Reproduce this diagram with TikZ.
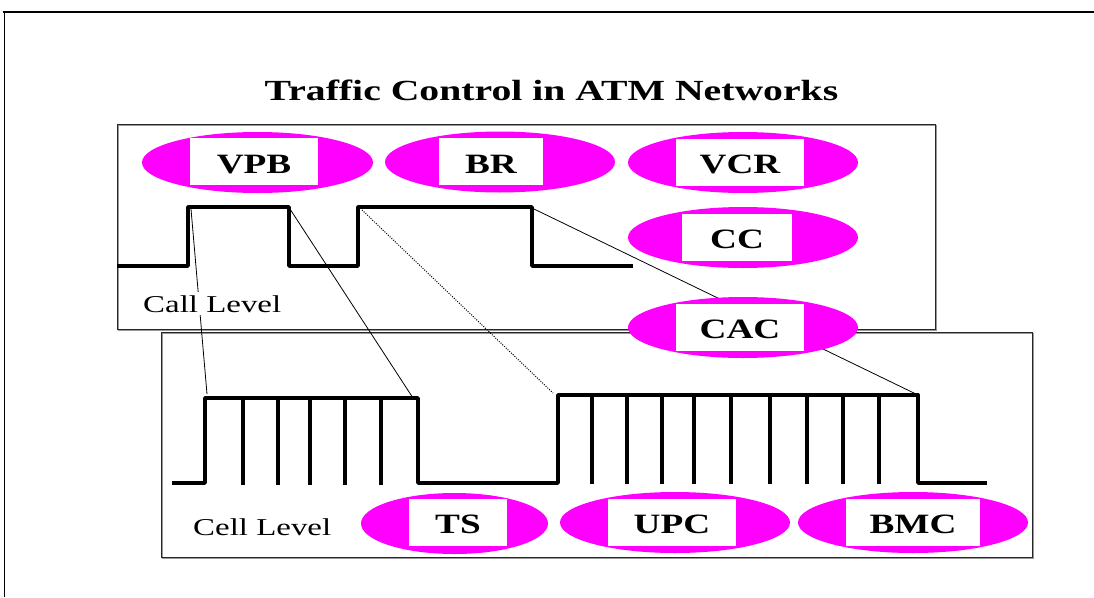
\documentclass[tikz,border=0pt]{standalone}
\usepackage{fontspec}
\usepackage{graphicx}
\setmainfont{Liberation Serif}
\usetikzlibrary{shapes.geometric}
\definecolor{atmpink}{RGB}{255,0,255}
% wide lettering used throughout the slide
\newcommand{\wtxt}[1]{\scalebox{1.33}[1]{#1}}
\newcommand{\ttxt}[1]{\scalebox{1.36}[1]{#1}}
\tikzset{
  oval/.style={ellipse, fill=atmpink, inner sep=0pt, minimum width=230pt, minimum height=61pt},
  tag/.style={fill=white, inner sep=0pt, minimum height=47pt, text height=23pt, text depth=0pt,
    font=\fontsize{28}{30}\selectfont\bfseries},
  panel/.style={line width=0.9pt, draw=black!85},
  panelshade/.style={line width=1pt, draw=black!40},
  signal/.style={line width=3.8pt, line join=round},
  tick/.style={line width=3.8pt},
  link/.style={line width=0.8pt},
  dotlink/.style={line width=1pt, dash pattern=on 1pt off 1.4pt},
  levellabel/.style={inner sep=3pt, fill=white, anchor=base west, font=\fontsize{24.2}{28}\selectfont}
}
\begin{document}
\begin{tikzpicture}[x=1pt,y=-1pt]
\useasboundingbox (0,0) rectangle (1094,597);

% outer frame of the slide
\draw[line width=2pt] (3,12) -- (1094,12);
\draw[line width=1pt] (4,12) -- (4,597);

% title
\node[anchor=base, inner sep=0pt, font=\fontsize{29.2}{32}\selectfont\bfseries] (title) at (551.5,100) {\ttxt{Traffic Control in ATM Networks}};

% call level and cell level panels
\draw[panelshade] (118.5,125.5) rectangle (936.5,330.5);
\draw[panel] (117,124) rectangle (935,329);
\draw[panelshade] (162.5,333.5) rectangle (1033.5,558.5);
\draw[panel] (161,332) rectangle (1032,557);

% anchor points on the two signals
\coordinate (callRiseA) at (191,209);
\coordinate (callFallA) at (290,209);
\coordinate (callRiseB) at (362,210);
\coordinate (callFallB) at (534,209);
\coordinate (cellStartA) at (207,394);
\coordinate (cellEndA) at (413,398);
\coordinate (cellStartB) at (553,393);
\coordinate (cellEndB) at (918,395);

% zoom lines from calls to their cell bursts
\draw[link] (callRiseA) -- (cellStartA);
\draw[link] (callFallA) -- (cellEndA);
\draw[dotlink] (callRiseB) -- (cellStartB);
\draw[link] (callFallB) -- (cellEndB);

% call level signal
\draw[signal] (117,266) -- (188,266) -- (188,207) -- (289,207) -- (289,266)
  -- (358,266) -- (358,207) -- (532,207) -- (532,266) -- (633,266);

% cell level signal
\draw[signal] (172,483) -- (205,483) -- (205,398) -- (418,398) -- (418,483)
  -- (558,483) -- (558,395) -- (918,395) -- (918,483) -- (987,483);
\foreach \x in {243,278,310,345,381}
  \draw[tick] (\x,398) -- (\x,485);
\foreach \x in {592,627,662,694,731,770,807,843,879}
  \draw[tick] (\x,395) -- (\x,484);

% level captions
\node[levellabel] (callLevel) at (140,312) {\ttxt{Call Level}};
\node[levellabel] (cellLevel) at (190,535) {\ttxt{Cell Level}};

% traffic control functions
\node[oval, minimum width=231pt] (vpbOval) at (257.5,162.5) {};
\node[tag, minimum width=128pt] (vpbTag) at (254,161.5) {\wtxt{VPB}};

\node[oval] (brOval) at (500,162) {};
\node[tag, minimum width=104pt] (brTag) at (491,161.5) {\wtxt{BR}};

\node[oval] (vcrOval) at (743,162.5) {};
\node[tag, minimum width=128pt] (vcrTag) at (740,162) {\wtxt{VCR}};

\node[oval] (ccOval) at (743,237.5) {};
\node[tag, minimum width=110pt] (ccTag) at (737,237) {\wtxt{CC}};

\node[oval] (cacOval) at (743,327.5) {};
\node[tag, minimum width=128pt] (cacTag) at (740,327) {\wtxt{CAC}};

\node[oval, minimum width=187pt] (tsOval) at (454.5,523.5) {};
\node[tag, minimum width=98pt] (tsTag) at (458,522) {\wtxt{TS}};

\node[oval] (upcOval) at (675,522.5) {};
\node[tag, minimum width=128pt] (upcTag) at (672,522) {\wtxt{UPC}};

\node[oval] (bmcOval) at (913,522.5) {};
\node[tag, minimum width=134pt] (bmcTag) at (913,522) {\wtxt{BMC}};
\end{tikzpicture}
\end{document}
